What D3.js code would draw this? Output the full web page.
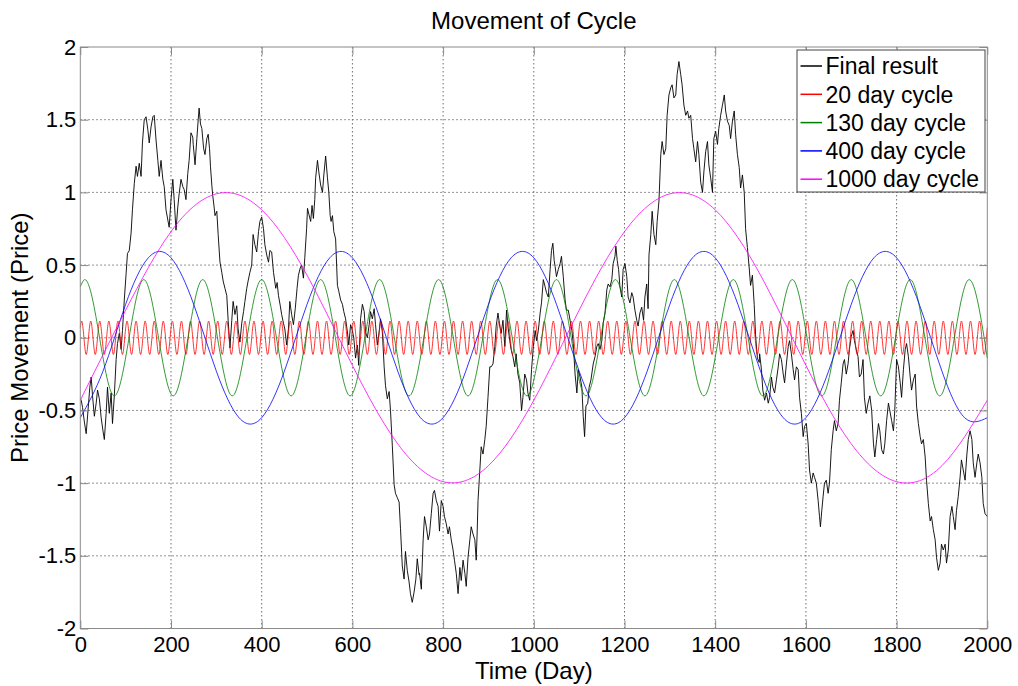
<!DOCTYPE html>
<html>
<head>
<meta charset="utf-8">
<title>Movement of Cycle</title>
<script src="https://cdn.jsdelivr.net/npm/d3@7"></script>
<style>
  body { margin: 0; background: #fff; }
  svg { display: block; }
</style>
</head>
<body>
<div id="chart"></div>
<script>
var xTicks = [0, 200, 400, 600, 800, 1000, 1200, 1400, 1600, 1800, 2000]
var yTicks = [-2, -1.5, -1, -0.5, 0, 0.5, 1, 1.5, 2]
var seriesNames = ['Final result', '20 day cycle', '130 day cycle', '400 day cycle', '1000 day cycle']

// [day, price movement]
var finalResult = [
  [0,-0.42],[2,-0.43],[5,-0.48],[9,-0.58],[13,-0.66],[17,-0.5],[21,-0.34],[24,-0.27],[27,-0.4],[31,-0.54],
  [35,-0.45],[38,-0.36],[42,-0.42],[46,-0.55],[50,-0.64],[53,-0.7],[57,-0.52],[60,-0.34],[64,-0.52],[68,-0.38],
  [71,-0.59],[75,-0.4],[79,-0.15],[82,-0.04],[86,0.03],[90,-0.08],[93,0.05],[97,0.26],[101,0.44],[104,0.58],
  [108,0.6],[112,0.72],[115,0.88],[119,1.06],[123,1.18],[126,1.11],[130,1.2],[134,1.11],[137,1.34],[141,1.5],
  [145,1.52],[149,1.43],[152,1.34],[156,1.45],[160,1.52],[163,1.53],[167,1.36],[171,1.22],[174,1.11],[178,1.22],
  [182,1.09],[185,1.04],[189,0.88],[193,0.81],[196,0.76],[200,0.95],[204,1.09],[207,0.95],[211,0.74],[215,0.9],
  [218,0.99],[222,1.09],[226,1.04],[229,1.02],[233,0.95],[237,1.13],[240,1.22],[244,1.41],[248,1.38],
  [249,1.33],[253,1.19],[257,1.37],[260,1.5],[262,1.58],[265,1.47],[268,1.44],[272,1.3],[275,1.26],[279,1.37],
  [282,1.4],[285,1.3],[287,1.18],[290,1.05],[292,0.98],[295,0.9],[297,0.84],[301,0.87],[304,0.71],[308,0.52],
  [312,0.45],[315,0.39],[319,0.34],[323,0.29],[326,0.12],[330,-0.07],[334,0.12],[337,0.25],[341,0.16],[345,0.22],
  [348,0.06],[352,-0.03],[356,0.1],[360,0.18],[363,0.25],[367,0.34],[370,0.39],[374,0.45],[378,0.5],[381,0.71],
  [385,0.64],[389,0.59],[393,0.73],[396,0.8],[400,0.83],[404,0.75],[407,0.64],[411,0.57],[415,0.52],[418,0.6],
  [422,0.59],[426,0.45],[431,0.34],[434,0.38],[437,0.29],[441,0.22],[444,0.16],[448,0.1],[451,0.06],[455,-0.05],
  [459,0.06],[462,0.25],[466,0.16],[470,0.09],[474,0.2],[478,0.34],[481,0.43],[485,0.48],[488,0.5],[492,0.41],
  [495,0.55],[499,0.75],[501,0.89],[504,0.85],[508,0.8],[511,0.91],[514,0.82],[517,0.95],[519,1.1],[523,1.22],
  [526,1.14],[530,1.05],[534,1.0],[537,1.12],[541,1.25],[545,1.1],[548,1.0],[551,0.84],[553,0.8],[556,0.84],
  [559,0.73],[563,0.68],[567,0.36],[570,0.32],[574,0.26],[578,0.23],[581,0.18],[585,0.13],[589,0.04],[592,-0.05],
  [596,0.09],[600,0.05],[603,0.0],[607,-0.14],[611,-0.05],[614,-0.19],[618,0.13],[622,0.23],[626,0.18],[629,0.04],
  [633,0.0],[637,0.09],[640,0.18],[644,0.13],[648,0.2],[651,0.09],[655,-0.05],[659,0.04],[662,0.13],[666,0.04],
  [670,-0.2],[673,-0.33],[677,-0.42],[681,-0.37],[684,-0.5],[688,-0.74],[692,-1.01],[695,-1.07],[699,-1.1],[703,-1.13],
  [706,-1.31],[710,-1.57],[714,-1.66],[717,-1.47],[721,-1.6],[725,-1.68],[728,-1.76],[732,-1.82],[736,-1.75],[740,-1.66],
  [743,-1.52],[747,-1.63],[748,-1.62],[752,-1.73],[756,-1.39],[759,-1.23],[763,-1.3],[767,-1.39],[770,-1.35],[774,-1.21],
  [778,-1.07],[781,-1.05],[785,-1.12],[789,-1.16],[792,-1.33],[796,-1.12],[800,-1.16],[803,-1.23],[807,-1.28],[811,-1.35],
  [814,-1.3],[818,-1.39],[822,-1.46],[825,-1.53],[829,-1.62],[833,-1.76],[837,-1.58],[840,-1.67],[844,-1.53],[848,-1.62],
  [851,-1.71],[855,-1.51],[859,-1.39],[862,-1.3],[866,-1.35],[870,-1.39],[873,-1.53],[875,-1.35],[877,-1.12],[881,-0.91],
  [884,-0.75],[888,-0.8],[892,-0.7],[895,-0.61],[899,-0.41],[903,-0.2],[906,-0.2],[910,-0.18],[914,-0.06],[917,0.08],
  [921,0.17],[925,0.08],[928,0.03],[932,0.12],[936,-0.06],[940,0.19],[943,0.08],[947,-0.02],[950,-0.08],[954,-0.13],
  [958,-0.2],[961,-0.11],[965,-0.25],[969,-0.31],[973,-0.5],[976,-0.41],[980,-0.25],[984,-0.29],[987,-0.38],[991,-0.43],
  [992,-0.38],[995,-0.22],[999,-0.06],[1003,0.05],[1006,-0.02],[1010,0.05],[1014,0.17],[1017,0.24],[1021,0.4],[1025,0.35],
  [1028,0.31],[1032,0.28],[1036,0.47],[1039,0.6],[1042,0.65],[1045,0.53],[1047,0.49],[1050,0.42],[1054,0.47],[1058,0.51],
  [1061,0.56],[1065,0.42],[1069,0.26],[1072,0.19],[1076,0.19],[1080,0.12],[1084,0.05],[1087,-0.04],[1091,-0.25],[1095,-0.38],
  [1098,-0.22],[1102,-0.27],[1106,-0.34],[1109,-0.54],[1112,-0.68],[1115,-0.47],[1119,-0.45],[1122,-0.34],[1126,-0.29],[1131,-0.18],
  [1135,-0.13],[1139,-0.06],[1142,-0.04],[1146,-0.08],[1150,-0.02],[1153,0.1],[1157,0.17],[1161,0.33],[1164,0.37],[1168,0.35],
  [1172,0.4],[1175,0.51],[1179,0.56],[1181,0.63],[1184,0.53],[1187,0.47],[1190,0.35],[1194,0.28],[1197,0.47],[1201,0.51],
  [1205,0.42],[1208,0.28],[1212,0.24],[1216,0.31],[1219,0.28],[1223,0.19],[1227,0.12],[1230,0.08],[1234,0.17],[1238,0.21],
  [1242,0.12],[1245,0.28],[1249,0.37],[1252,0.2],[1254,0.57],[1258,0.71],[1261,0.87],[1265,0.71],[1269,0.64],[1272,0.8],
  [1276,0.94],[1280,1.26],[1283,1.35],[1287,1.26],[1291,1.3],[1294,1.53],[1298,1.67],[1302,1.72],[1305,1.74],[1309,1.65],
  [1313,1.67],[1316,1.81],[1320,1.9],[1324,1.81],[1327,1.74],[1331,1.6],[1335,1.53],[1339,1.56],[1342,1.51],[1346,1.53],
  [1350,1.37],[1353,1.3],[1357,1.21],[1361,1.35],[1364,1.26],[1368,1.07],[1372,1.0],[1375,1.14],[1379,1.28],[1383,1.35],
  [1386,1.19],[1390,1.1],[1394,1.0],[1397,1.37],[1401,1.42],[1405,1.33],[1408,1.44],[1412,1.53],[1416,1.6],[1420,1.67],
  [1423,1.56],[1427,1.49],[1431,1.46],[1434,1.37],[1438,1.49],[1442,1.56],[1445,1.4],[1449,1.26],[1453,1.17],[1456,1.03],
  [1460,1.12],[1464,1.0],[1467,0.75],[1471,0.62],[1475,0.48],[1478,0.36],[1482,0.43],[1486,0.23],[1489,0.02],[1493,-0.14],
  [1497,-0.17],[1498,-0.11],[1502,-0.22],[1505,-0.36],[1509,-0.43],[1513,-0.38],[1517,-0.45],[1520,-0.41],[1524,-0.27],[1527,-0.34],
  [1531,-0.38],[1535,-0.29],[1539,-0.2],[1542,-0.11],[1546,-0.15],[1550,-0.25],[1553,-0.31],[1557,-0.18],[1561,-0.06],[1564,-0.02],
  [1568,-0.11],[1572,-0.22],[1575,-0.29],[1579,-0.2],[1583,-0.22],[1586,-0.41],[1590,-0.52],[1594,-0.68],[1597,-0.61],[1601,-0.59],
  [1605,-0.73],[1608,-0.91],[1612,-1.0],[1616,-0.93],[1619,-0.96],[1623,-1.0],[1627,-1.12],[1630,-1.23],[1632,-1.3],[1635,-1.19],
  [1638,-1.09],[1641,-1.0],[1645,-0.98],[1649,-1.07],[1652,-1.0],[1656,-0.77],[1660,-0.64],[1663,-0.57],[1667,-0.64],[1671,-0.59],
  [1674,-0.43],[1678,-0.31],[1682,-0.18],[1685,-0.15],[1689,-0.25],[1693,-0.18],[1696,-0.08],[1700,0.01],[1704,0.05],[1707,-0.02],
  [1711,-0.08],[1715,-0.13],[1718,-0.27],[1722,-0.25],[1726,-0.15],[1729,-0.41],[1733,-0.52],[1737,-0.45],[1741,-0.4],[1745,-0.5],
  [1749,-0.73],[1752,-0.82],[1756,-0.7],[1760,-0.59],[1763,-0.64],[1767,-0.77],[1771,-0.8],[1774,-0.73],[1778,-0.57],[1782,-0.45],
  [1785,-0.5],[1789,-0.57],[1793,-0.64],[1796,-0.5],[1800,-0.15],[1804,-0.2],[1808,-0.31],[1811,-0.41],[1815,-0.22],[1819,-0.08],
  [1822,-0.04],[1826,-0.13],[1830,-0.27],[1833,-0.36],[1837,-0.29],[1841,-0.25],[1844,-0.47],[1848,-0.59],[1852,-0.68],[1855,-0.73],
  [1859,-0.7],[1863,-0.82],[1866,-0.98],[1870,-1.14],[1874,-1.26],[1877,-1.23],[1881,-1.32],[1885,-1.39],[1888,-1.51],[1892,-1.6],
  [1896,-1.55],[1899,-1.42],[1903,-1.46],[1907,-1.42],[1910,-1.55],[1914,-1.46],[1918,-1.23],[1922,-1.16],[1925,-1.23],[1929,-1.32],
  [1932,-1.19],[1936,-1.09],[1940,-0.96],[1943,-0.84],[1947,-0.91],[1951,-0.98],[1955,-0.8],[1958,-0.7],[1962,-0.64],[1966,-0.7],
  [1969,-0.86],[1973,-0.96],[1977,-0.86],[1980,-0.8],[1984,-0.86],[1988,-0.96],[1991,-1.14],[1995,-1.21],[2000,-1.23]
]

// peaks and troughs of the 20 day cycle
var cycle20 = [
  [0,0.07],
  [3,0.115],[13,-0.115],[23,0.115],[33,-0.115],[43,0.115],[53,-0.115],[63,0.115],[73,-0.115],[83,0.115],[93,-0.115],
  [103,0.115],[113,-0.115],[123,0.115],[133,-0.115],[143,0.115],[153,-0.115],[163,0.115],[173,-0.115],[183,0.115],[193,-0.115],
  [203,0.115],[213,-0.115],[223,0.115],[233,-0.115],[243,0.115],[253,-0.115],[263,0.115],[273,-0.115],[283,0.115],[293,-0.115],
  [303,0.115],[313,-0.115],[323,0.115],[333,-0.115],[343,0.115],[353,-0.115],[363,0.115],[373,-0.115],[383,0.115],[393,-0.115],
  [403,0.115],[413,-0.115],[423,0.115],[433,-0.115],[443,0.115],[453,-0.115],[463,0.115],[473,-0.115],[483,0.115],[493,-0.115],
  [503,0.115],[513,-0.115],[523,0.115],[533,-0.115],[543,0.115],[553,-0.115],[563,0.115],[573,-0.115],[583,0.115],[593,-0.115],
  [603,0.115],[613,-0.115],[623,0.115],[633,-0.115],[643,0.115],[653,-0.115],[663,0.115],[673,-0.115],[683,0.115],[693,-0.115],
  [703,0.115],[713,-0.115],[723,0.115],[733,-0.115],[743,0.115],[753,-0.115],[763,0.115],[773,-0.115],[783,0.115],[793,-0.115],
  [803,0.115],[813,-0.115],[823,0.115],[833,-0.115],[843,0.115],[853,-0.115],[863,0.115],[873,-0.115],[883,0.115],[893,-0.115],
  [903,0.115],[913,-0.115],[923,0.115],[933,-0.115],[943,0.115],[953,-0.115],[963,0.115],[973,-0.115],[983,0.115],[993,-0.115],
  [1003,0.115],[1013,-0.115],[1023,0.115],[1033,-0.115],[1043,0.115],[1053,-0.115],[1063,0.115],[1073,-0.115],[1083,0.115],[1093,-0.115],
  [1103,0.115],[1113,-0.115],[1123,0.115],[1133,-0.115],[1143,0.115],[1153,-0.115],[1163,0.115],[1173,-0.115],[1183,0.115],[1193,-0.115],
  [1203,0.115],[1213,-0.115],[1223,0.115],[1233,-0.115],[1243,0.115],[1253,-0.115],[1263,0.115],[1273,-0.115],[1283,0.115],[1293,-0.115],
  [1303,0.115],[1313,-0.115],[1323,0.115],[1333,-0.115],[1343,0.115],[1353,-0.115],[1363,0.115],[1373,-0.115],[1383,0.115],[1393,-0.115],
  [1403,0.115],[1413,-0.115],[1423,0.115],[1433,-0.115],[1443,0.115],[1453,-0.115],[1463,0.115],[1473,-0.115],[1483,0.115],[1493,-0.115],
  [1503,0.115],[1513,-0.115],[1523,0.115],[1533,-0.115],[1543,0.115],[1553,-0.115],[1563,0.115],[1573,-0.115],[1583,0.115],[1593,-0.115],
  [1603,0.115],[1613,-0.115],[1623,0.115],[1633,-0.115],[1643,0.115],[1653,-0.115],[1663,0.115],[1673,-0.115],[1683,0.115],[1693,-0.115],
  [1703,0.115],[1713,-0.115],[1723,0.115],[1733,-0.115],[1743,0.115],[1753,-0.115],[1763,0.115],[1773,-0.115],[1783,0.115],[1793,-0.115],
  [1803,0.115],[1813,-0.115],[1823,0.115],[1833,-0.115],[1843,0.115],[1853,-0.115],[1863,0.115],[1873,-0.115],[1883,0.115],[1893,-0.115],
  [1903,0.115],[1913,-0.115],[1923,0.115],[1933,-0.115],[1943,0.115],[1953,-0.115],[1963,0.115],[1973,-0.115],[1983,0.115],[1993,-0.115],
  [2000,0.07]
]

// peaks and troughs of the 130 day cycle
var cycle130 = [
  [0,0.35],[10,0.4],[75,-0.4],[140,0.4],[205,-0.4],[270,0.4],[335,-0.4],[400,0.4],[465,-0.4],[530,0.4],
  [595,-0.4],[660,0.4],[725,-0.4],[790,0.4],[855,-0.4],[920,0.4],[985,-0.4],[1050,0.4],[1115,-0.4],[1180,0.4],
  [1245,-0.4],[1310,0.4],[1375,-0.4],[1440,0.4],[1505,-0.4],[1570,0.4],[1635,-0.4],[1700,0.4],[1765,-0.4],[1830,0.4],
  [1895,-0.4],[1960,0.4],[2000,-0.14]
]

// 400 day cycle, read every 50 days
var cycle400 = [
  [0,-0.55],[50,-0.23],[100,0.23],[150,0.55],[200,0.55],[250,0.23],[300,-0.23],[350,-0.55],
  [400,-0.55],[450,-0.23],[500,0.23],[550,0.55],[600,0.55],[650,0.23],[700,-0.23],[750,-0.55],
  [800,-0.55],[850,-0.23],[900,0.23],[950,0.55],[1000,0.55],[1050,0.23],[1100,-0.23],[1150,-0.55],
  [1200,-0.55],[1250,-0.23],[1300,0.23],[1350,0.55],[1400,0.55],[1450,0.23],[1500,-0.23],[1550,-0.55],
  [1600,-0.55],[1650,-0.23],[1700,0.23],[1750,0.55],[1800,0.55],[1850,0.23],[1900,-0.23],[1950,-0.55],
  [2000,-0.55]
]

// 1000 day cycle, read every 100 days
var cycle1000 = [
  [0,-0.43],[100,0.19],[200,0.73],[300,0.99],[400,0.88],[500,0.43],[600,-0.19],[700,-0.73],[800,-0.99],[900,-0.88],
  [1000,-0.43],[1100,0.19],[1200,0.73],[1300,0.99],[1400,0.88],[1500,0.43],[1600,-0.19],[1700,-0.73],[1800,-0.99],[1900,-0.88],
  [2000,-0.43]
]

var FONT = '"Liberation Sans", Arial, Helvetica, sans-serif'
var seriesColors = ['#000000', '#ff0000', '#008000', '#0000ff', '#ff00ff']
var axisColor = '#8a8a8a'

var W = 1018, H = 686
var margin = {top: 47, right: 30.7, bottom: 57.5, left: 80.3},
  width = W - margin.left - margin.right,
  height = H - margin.top - margin.bottom

var x = d3.scaleLinear().domain([0, 2000]).range([0, width])
var y = d3.scaleLinear().domain([-2, 2]).range([height, 0])

var svg = d3.select('#chart').append('svg')
  .attr('width', W)
  .attr('height', H)
  .style('font-family', FONT)

var g = svg.append('g')
  .attr('transform', 'translate(' + margin.left + ',' + margin.top + ')')

// dotted grid
var grid = g.append('g')
  .attr('stroke', '#6f6f6f')
  .attr('stroke-width', 1)
  .attr('stroke-dasharray', '1.5,2.5')
grid.selectAll('line.gx')
  .data(xTicks.slice(1, -1))
  .enter().append('line')
  .attr('x1', function(d) { return x(d) })
  .attr('x2', function(d) { return x(d) })
  .attr('y1', 0)
  .attr('y2', height)
grid.selectAll('line.gy')
  .data(yTicks.slice(1, -1))
  .enter().append('line')
  .attr('x1', 0)
  .attr('x2', width)
  .attr('y1', function(d) { return y(d) })
  .attr('y2', function(d) { return y(d) })

// data lines
var series = [
  {data: finalResult, curve: d3.curveLinear, w: 0.9},
  {data: cycle20, curve: d3.curveMonotoneX, w: 0.8},
  {data: cycle130, curve: d3.curveMonotoneX, w: 0.8},
  {data: cycle400, curve: d3.curveNatural, w: 0.8},
  {data: cycle1000, curve: d3.curveNatural, w: 0.8}
]

series.forEach(function(s, i) {
  var line = d3.line()
    .x(function(d) { return x(d[0]) })
    .y(function(d) { return y(d[1]) })
    .curve(s.curve)
  g.append('path')
    .datum(s.data)
    .attr('fill', 'none')
    .attr('stroke', seriesColors[i])
    .attr('stroke-width', s.w)
    .attr('stroke-linejoin', 'round')
    .attr('d', line)
})

// axes, MATLAB style ticks pointing inward on all four sides
function styleAxis(sel) {
  sel.attr('font-family', FONT).attr('font-size', 22)
  sel.selectAll('path.domain').remove()
  sel.selectAll('.tick line').attr('stroke', axisColor)
  sel.selectAll('.tick text').attr('fill', '#000')
}

g.append('g')
  .attr('transform', 'translate(0,' + height + ')')
  .call(d3.axisBottom(x).tickValues(xTicks).tickSize(-8).tickPadding(8).tickFormat(String))
  .call(styleAxis)
g.append('g')
  .call(d3.axisTop(x).tickValues(xTicks).tickSize(-8).tickFormat(''))
  .call(styleAxis)
g.append('g')
  .call(d3.axisLeft(y).tickValues(yTicks).tickSize(-8).tickPadding(4).tickFormat(String))
  .call(styleAxis)
g.append('g')
  .attr('transform', 'translate(' + width + ',0)')
  .call(d3.axisRight(y).tickValues(yTicks).tickSize(-8).tickFormat(''))
  .call(styleAxis)

g.append('rect')
  .attr('width', width)
  .attr('height', height)
  .attr('fill', 'none')
  .attr('stroke', axisColor)

// title and labels
svg.append('text')
  .attr('x', margin.left + width / 2)
  .attr('y', 29)
  .attr('text-anchor', 'middle')
  .attr('font-size', 24)
  .text('Movement of Cycle')

svg.append('text')
  .attr('x', margin.left + width / 2)
  .attr('y', 679)
  .attr('text-anchor', 'middle')
  .attr('font-size', 24)
  .text('Time (Day)')

svg.append('text')
  .attr('transform', 'translate(28,' + (margin.top + height / 2) + ') rotate(-90)')
  .attr('text-anchor', 'middle')
  .attr('font-size', 24)
  .text('Price Movement (Price)')

// legend
var legendW = 188, legendH = 142
var legend = svg.append('g')
  .attr('transform', 'translate(' + (margin.left + width - legendW - 2.3) + ',' + (margin.top + 3) + ')')

legend.append('rect')
  .attr('width', legendW)
  .attr('height', legendH)
  .attr('fill', '#fff')
  .attr('stroke', '#444')

var rows = legend.selectAll('g.row')
  .data(seriesNames)
  .enter().append('g')
  .attr('transform', function(d, i) { return 'translate(0,' + (16 + i * 28.3) + ')' })

rows.append('line')
  .attr('x1', 3.5)
  .attr('x2', 25)
  .attr('stroke', function(d, i) { return seriesColors[i] })
  .attr('stroke-width', 1.5)

rows.append('text')
  .attr('x', 28.5)
  .attr('dy', '0.36em')
  .attr('font-size', 23)
  .text(function(d) { return d })
</script>
</body>
</html>
